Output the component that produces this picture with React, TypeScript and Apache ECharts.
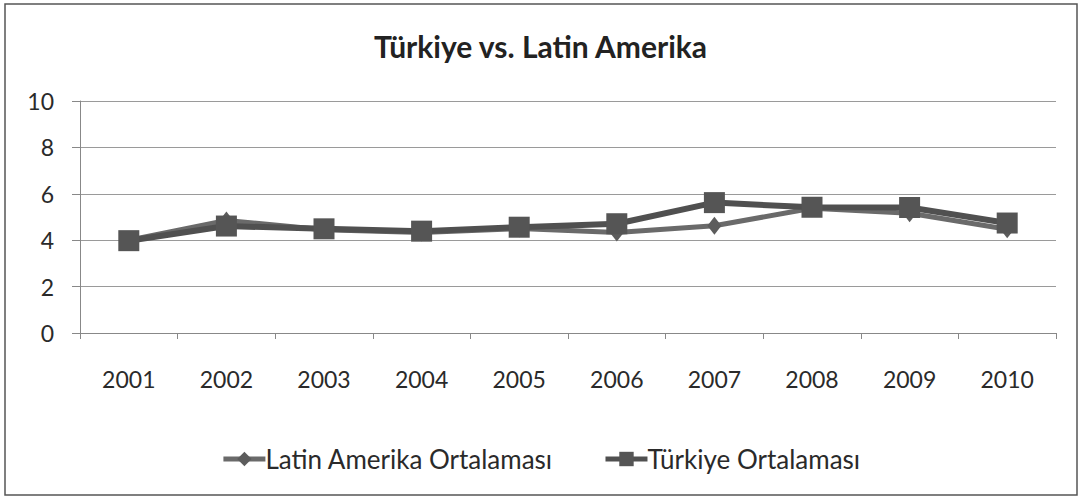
import React, { useEffect, useRef } from "react";
import * as echarts from "echarts";

// Yearly averages, 2001–2010
const years = ["2001", "2002", "2003", "2004", "2005", "2006", "2007", "2008", "2009", "2010"];
const latinAmerica = [4.0, 4.85, 4.45, 4.33, 4.5, 4.33, 4.62, 5.38, 5.16, 4.47];
const turkey = [3.98, 4.61, 4.49, 4.39, 4.56, 4.71, 5.62, 5.42, 5.41, 4.74];

const seriesNames = ["Latin Amerika Ortalaması", "Türkiye Ortalaması"];
const chartTitle = "Türkiye vs. Latin Amerika";

const yMin = 0;
const yMax = 10;
const yStep = 2;

const FONT = "Lato";

export default function App() {
  const ref = useRef<HTMLDivElement>(null);

  useEffect(() => {
    document.body.style.margin = "0";
    const chart = echarts.init(ref.current!, null, { renderer: "svg" });
    chart.setOption({
      animation: false,
      backgroundColor: "#ffffff",
      title: {
        text: chartTitle,
        left: "center",
        top: 26,
        textStyle: {
          fontFamily: FONT,
          fontSize: 30,
          fontWeight: "bold",
          color: "#222",
        },
      },
      legend: {
        bottom: 22,
        left: "center",
        itemWidth: 42,
        itemHeight: 18,
        itemGap: 50,
        lineStyle: { width: 5 },
        textStyle: { fontFamily: FONT, fontSize: 26, color: "#2a2a2a", padding: [0, 0, 0, -5] },
        data: seriesNames,
      },
      grid: { left: 80, right: 25, top: 101, bottom: 166 },
      xAxis: {
        type: "category",
        data: years,
        boundaryGap: true,
        axisLine: { show: true, lineStyle: { color: "#888", width: 1 } },
        axisTick: { show: true, length: 6, alignWithLabel: false, lineStyle: { color: "#888" } },
        axisLabel: { margin: 34, fontFamily: FONT, fontSize: 23, color: "#2a2a2a" },
        splitLine: { show: false },
      },
      yAxis: {
        type: "value",
        min: yMin,
        max: yMax,
        interval: yStep,
        axisLine: { show: true, lineStyle: { color: "#888", width: 1 } },
        axisTick: { show: true, length: 8, lineStyle: { color: "#888" } },
        axisLabel: { margin: 26, fontFamily: FONT, fontSize: 23, color: "#2a2a2a" },
        splitLine: { show: true, lineStyle: { color: "#9a9a9a", width: 1.2 } },
      },
      series: [
        {
          name: seriesNames[0],
          type: "line",
          data: latinAmerica,
          symbol: "diamond",
          symbolSize: [14, 18],
          lineStyle: { color: "#6a6a6a", width: 5 },
          itemStyle: { color: "#5c5c5c" },
        },
        {
          name: seriesNames[1],
          type: "line",
          data: turkey,
          symbol: "rect",
          symbolSize: 21,
          lineStyle: { color: "#505050", width: 6 },
          itemStyle: { color: "#555555" },
        },
      ],
      graphic: [
        {
          type: "rect",
          shape: { x: 5, y: 4, width: 1072, height: 491 },
          style: { fill: "none", stroke: "#555", lineWidth: 1.5 },
          silent: true,
        },
      ],
    });
    return () => chart.dispose();
  }, []);

  return <div ref={ref} style={{ width: 1081, height: 499, background: "#fff" }} />;
}
